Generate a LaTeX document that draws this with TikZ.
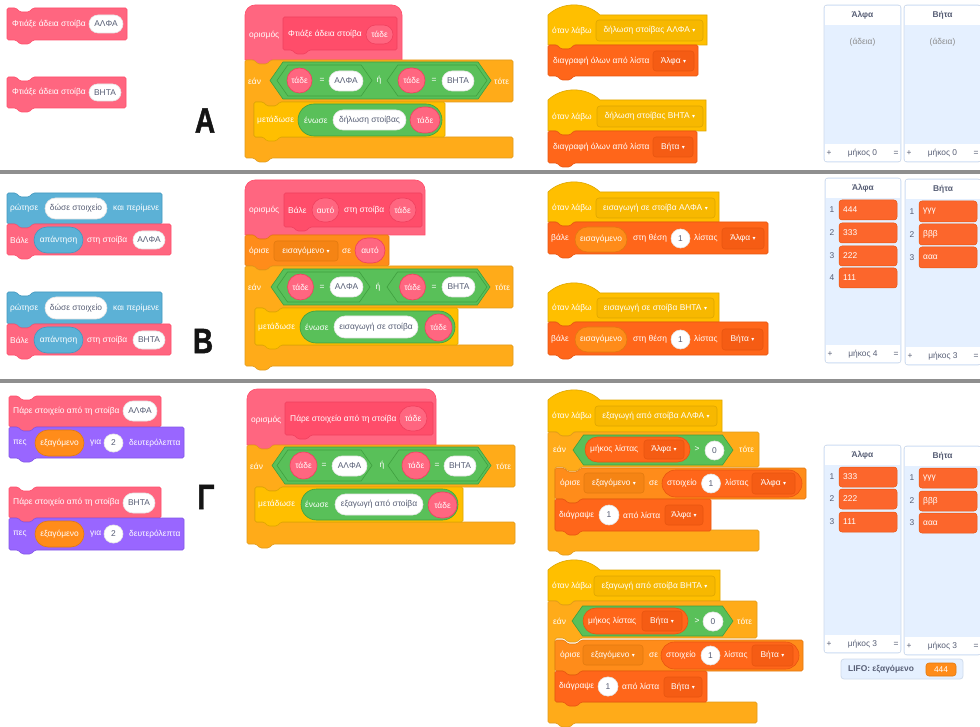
\documentclass[tikz,border=0pt]{standalone}
\usepackage{fontspec}
\setmainfont{Liberation Sans}
\newfontfamily\symfont{DejaVu Sans}
\newfontfamily\heavyfont[FakeBold=1.6]{Liberation Sans}
\usetikzlibrary{shapes.misc}
\definecolor{cPink}{HTML}{FF6680}
\definecolor{cPinkD}{HTML}{FF4D6A}
\definecolor{cPinkDD}{HTML}{F0405E}
\definecolor{cCtl}{HTML}{FFAB19}
\definecolor{cCtlD}{HTML}{E09A1A}
\definecolor{cEv}{HTML}{FFBF00}
\definecolor{cEvD}{HTML}{DDA600}
\definecolor{cEvM}{HTML}{F7B800}
\definecolor{cOp}{HTML}{59C059}
\definecolor{cOpD}{HTML}{3F9F3F}
\definecolor{cVar}{HTML}{FF8C1A}
\definecolor{cVarD}{HTML}{E27A10}
\definecolor{cVarM}{HTML}{F58414}
\definecolor{cLst}{HTML}{FF661A}
\definecolor{cLstD}{HTML}{E85510}
\definecolor{cLstM}{HTML}{F55C14}
\definecolor{cSen}{HTML}{5CB1D6}
\definecolor{cSenD}{HTML}{4499C0}
\definecolor{cLk}{HTML}{9966FF}
\definecolor{cLkD}{HTML}{8255E6}
\definecolor{ink}{HTML}{575E75}
\definecolor{lbg}{HTML}{E5F0FF}
\definecolor{lbd}{HTML}{D0DCEC}
\definecolor{sepc}{HTML}{8F8F8F}
\definecolor{itemc}{HTML}{FC662C}
\newcommand\dd{\hspace{2.5pt}{\symfont\fontsize{6}{6}\selectfont ▾}}
% stack block: style, x1, y1, x2, y2
\newcommand\stk[5]{\draw[#1, rounded corners=1.5pt] (#2,#3) -- ({#2+9},#3) -- ++(4,4) -- ++(9,0) -- ++(4,-4) -- (#4,#3) -- (#4,#5) -- ({#2+26},#5) -- ++(-4,4) -- ++(-9,0) -- ++(-4,-4) -- (#2,#5) -- cycle;}
% event hat
\newcommand\hatev[5]{\draw[#1] (#2,#5) -- (#2,#3) .. controls ({#2+14},{#3-13.5}) and ({#2+38},{#3-13.5}) .. ({#2+52},#3) -- (#4,#3) -- (#4,#5) -- ({#2+26},#5) -- ++(-4,4) -- ++(-9,0) -- ++(-4,-4) -- cycle;}
% define hat
\newcommand\hatdef[5]{\draw[#1] (#2,#5) -- (#2,{#3+10}) .. controls (#2,{#3+4.5}) and ({#2+4.5},#3) .. ({#2+10},#3) -- ({#4-10},#3) .. controls ({#4-4.5},#3) and (#4,{#3+4.5}) .. (#4,{#3+10}) -- (#4,#5) -- ({#2+26},#5) -- ++(-4,4) -- ++(-9,0) -- ++(-4,-4) -- cycle;}
% prototype inside define
\newcommand\proto[4]{\draw[fill=cPinkD, draw=cPinkDD, line width=0.6pt, rounded corners=1.5pt] (#1,#2) -- (#3,#2) -- (#3,#4) -- ({#1+26},#4) -- ++(-4,4) -- ++(-9,0) -- ++(-4,-4) -- (#1,#4) -- cycle;}
% C block: style, x1, y1, x2, ya, xi, yb, y2
\newcommand\cblk[8]{\draw[#1, rounded corners=1.5pt] (#2,#3) -- ({#2+9},#3) -- ++(4,4) -- ++(9,0) -- ++(4,-4) -- (#4,#3) -- (#4,#5) -- ({#6+26},#5) -- ++(-4,4) -- ++(-9,0) -- ++(-4,-4) -- (#6,#5) -- (#6,#7) -- (#4,#7) -- (#4,#8) -- ({#2+26},#8) -- ++(-4,4) -- ++(-9,0) -- ++(-4,-4) -- (#2,#8) -- cycle;}
% boolean hexagon
\newcommand\hexb[5]{\draw[#1] (#2,{(#3+#5)/2}) -- ({#2+0.35*(#5-#3)},#3) -- ({#4-0.35*(#5-#3)},#3) -- (#4,{(#3+#5)/2}) -- ({#4-0.35*(#5-#3)},#5) -- ({#2+0.35*(#5-#3)},#5) -- cycle;}
% box node: name, style, x1, y1, x2, y2, text
\newcommand\bx[7]{\node[#2, minimum width={#5-#3}, minimum height={#6-#4}] (#1) at ({(#3+#5)/2},{(#4+#6)/2}) {#7};}
% list panel
\newcommand\lpanel[7]{%
 \draw[fill=lbg, draw=lbd, line width=0.8pt, rounded corners=3pt] (#2,#3) rectangle (#4,#5);
 \fill[white] ({#2+0.8},{#3+0.8}) rectangle ({#4-0.8},{#3+20});
 \fill[white] ({#2+0.8},{#5-18}) rectangle ({#4-0.8},{#5-0.8});
 \node[lt, font=\fontsize{8.4}{10}\selectfont\bfseries] (#1h) at ({(#2+#4)/2},{#3+10.5}) {#6};
 \node[lt] (#1f) at ({(#2+#4)/2},{#5-9}) {#7};
 \node[lt] (#1p) at ({#2+5},{#5-9}) {+};
 \node[lt] (#1q) at ({#4-5},{#5-9}) {=};
}
% list item: name x1 y1 x2 y2 idx text
\newcommand\litem[7]{%
 \node[lt] (#1i) at ({#2-7},{(#3+#5)/2}) {#6};
 \draw[fill=itemc, draw=cLstD, line width=0.5pt, rounded corners=3pt] (#2,#3) rectangle (#4,#5);
 \node[bt] (#1t) at ({#2+4},{(#3+#5)/2}) {#7};
}
\tikzset{
 bf/.style={font=\fontsize{8.4}{10}\selectfont},
 bt/.style={bf, text=white, anchor=west, inner sep=0pt},
 bc/.style={bf, text=white, inner sep=0pt},
 lt/.style={bf, text=ink, inner sep=0pt},
 pinkb/.style={fill=cPink, draw=cPinkD, line width=0.6pt},
 ctlb/.style={fill=cCtl, draw=cCtlD, line width=0.6pt},
 evb/.style={fill=cEv, draw=cEvD, line width=0.6pt},
 opb/.style={fill=cOp, draw=cOpD, line width=0.6pt},
 varb/.style={fill=cVar, draw=cVarD, line width=0.6pt},
 lstb/.style={fill=cLst, draw=cLstD, line width=0.6pt},
 senb/.style={fill=cSen, draw=cSenD, line width=0.6pt},
 lkb/.style={fill=cLk, draw=cLkD, line width=0.6pt},
 pillbase/.style={rounded rectangle, inner sep=0pt, bf, line width=0.6pt},
 wpill/.style={pillbase, fill=white, draw=black!10, text=ink},
 ppill/.style={pillbase, fill=cPink, draw=cPinkDD, text=white},
 bpill/.style={pillbase, fill=cSen, draw=cSenD, text=white},
 vpill/.style={pillbase, fill=cVar, draw=cVarD, text=white},
 gpill/.style={pillbase, fill=cOp, draw=cOpD, text=white},
 lpill/.style={pillbase, fill=cLst, draw=cLstD, text=white},
 ddbase/.style={rectangle, rounded corners=3pt, inner sep=0pt, bf, text=white, line width=0.6pt},
 evdd/.style={ddbase, fill=cEvM, draw=cEvD},
 lstdd/.style={ddbase, fill=cLstM, draw=cLstD},
 vardd/.style={ddbase, fill=cVarM, draw=cVarD},
 big/.style={inner sep=0pt, text=black!92, font=\heavyfont\fontsize{35}{35}\selectfont\bfseries},
}
\begin{document}
\begin{tikzpicture}[x=1pt, y=-1pt]
\useasboundingbox (0,0) rectangle (980,727);
\fill[white] (0,0) rectangle (980,727);
% separators
\draw[sepc, line width=3.5pt] (0,172) -- (980,172);
\draw[sepc, line width=3.5pt] (0,381) -- (980,381);

%================ SECTION A ================
\stk{pinkb}{7}{8}{127}{40}
\node[bt] (a1t) at (12,24) {Φτιάξε άδεια στοίβα};
\bx{a1v}{wpill}{89}{15}{123}{33}{ΑΛΦΑ}
\stk{pinkb}{7}{77}{126}{108}
\node[bt] (a2t) at (12,92.5) {Φτιάξε άδεια στοίβα};
\bx{a2v}{wpill}{89}{84}{121}{101}{ΒΗΤΑ}
\node[big] (labA) at (205,120.5) {\scalebox{0.8}[1]{Α}};

% define A
\hatdef{pinkb}{245}{5}{402}{60}
\proto{283}{17}{397}{50}
\node[bt] (d1o) at (249,35) {ορισμός};
\node[bt] (d1t) at (288,34) {Φτιάξε άδεια στοίβα};
\bx{d1a}{ppill}{366}{25}{393}{44}{τάδε}
\cblk{ctlb}{245}{60}{513}{102}{254}{137}{158}
\node[bt] (d1if) at (248,81) {εάν};
\node[bt] (d1th) at (494,81) {τότε};
\hexb{opb}{270}{62}{491}{99}
\hexb{opb}{277}{65}{372}{96}
\hexb{opb}{387}{65}{487}{96}
\bx{d1c1}{ppill}{287}{68}{312}{93}{τάδε}
\node[bc] (d1e1) at (322,80.5) {=};
\bx{d1c2}{wpill}{329}{71}{363}{91}{ΑΛΦΑ}
\node[bc] (d1or) at (379,80.5) {ή};
\bx{d1c3}{ppill}{398}{68}{425}{93}{τάδε}
\node[bc] (d1e2) at (434,80.5) {=};
\bx{d1c4}{wpill}{442}{71}{474}{91}{ΒΗΤΑ}
\stk{evb}{254}{102}{445}{137}
\node[bt] (d1b) at (257,120) {μετάδωσε};
\bx{d1j}{gpill}{298}{104}{442}{136}{}
\node[bt] (d1jt) at (304,120) {ένωσε};
\bx{d1js}{wpill}{333}{110}{406}{130}{δήλωση στοίβας}
\bx{d1ja}{ppill}{410}{107}{440}{133}{τάδε}

% receivers A
\hatev{evb}{548}{15}{707}{45}
\node[bt] (r1h) at (552,31) {όταν λάβω};
\bx{r1d}{evdd}{596}{20}{703}{41}{δήλωση στοίβας ΑΛΦΑ\dd}
\stk{lstb}{548}{45}{698}{76}
\node[bt] (r1l) at (553,61) {διαγραφή όλων από λίστα};
\bx{r1ld}{lstdd}{653}{51}{694}{71}{Άλφα\dd}
\hatev{evb}{548}{100}{706}{131}
\node[bt] (r2h) at (552,117) {όταν λάβω};
\bx{r2d}{evdd}{597}{106}{703}{127}{δήλωση στοίβας ΒΗΤΑ\dd}
\stk{lstb}{548}{131}{697}{163}
\node[bt] (r2l) at (553,147) {διαγραφή όλων από λίστα};
\bx{r2ld}{lstdd}{653}{137}{693}{157}{Βήτα\dd}

% lists A
\lpanel{LA}{824}{5}{901}{162}{Άλφα}{μήκος 0}
\node[lt, text=black!45] (LAe) at (862.5,42) {(άδεια)};
\lpanel{LB}{904}{5}{981}{162}{Βήτα}{μήκος 0}
\node[lt, text=black!45] (LBe) at (942.5,42) {(άδεια)};

%================ SECTION B ================
\stk{senb}{7}{193}{162}{224}
\node[bt] (b1a) at (10,208.5) {ρώτησε};
\bx{b1q}{wpill}{45}{198}{107}{219}{δώσε στοιχείο}
\node[bt] (b1b) at (113,208.5) {και περίμενε};
\stk{pinkb}{7}{224}{171}{255}
\node[bt] (b1c) at (10,240) {Βάλε};
\bx{b1r}{bpill}{34}{227}{83}{253}{απάντηση}
\node[bt] (b1d) at (87,240) {στη στοίβα};
\bx{b1v}{wpill}{133}{231}{165}{249}{ΑΛΦΑ}

\stk{senb}{7}{292}{162}{324}
\node[bt] (b2a) at (10,308) {ρώτησε};
\bx{b2q}{wpill}{45}{297}{107}{319}{δώσε στοιχείο}
\node[bt] (b2b) at (113,308) {και περίμενε};
\stk{pinkb}{7}{324}{171}{355}
\node[bt] (b2c) at (10,340) {Βάλε};
\bx{b2r}{bpill}{34}{327}{83}{353}{απάντηση}
\node[bt] (b2d) at (87,340) {στη στοίβα};
\bx{b2v}{wpill}{133}{331}{165}{349}{ΒΗΤΑ}
\node[big] (labB) at (203,341) {\scalebox{0.8}[1]{Β}};

% define B
\hatdef{pinkb}{245}{180}{425}{235}
\proto{284}{193}{422}{227}
\node[bt] (d2o) at (249,210) {ορισμός};
\node[bt] (d2t) at (288,210) {Βάλε};
\bx{d2a}{ppill}{312}{198}{339}{222}{αυτό}
\node[bt] (d2u) at (344,210) {στη στοίβα};
\bx{d2b}{ppill}{389}{198}{416}{222}{τάδε}
\stk{varb}{245}{235}{389}{266}
\node[bt] (d2s) at (249,251) {όρισε};
\bx{d2sd}{vardd}{274}{241}{338}{261}{εισαγόμενο\dd}
\node[bt] (d2se) at (342,251) {σε};
\bx{d2sv}{ppill}{355}{238}{385}{263}{αυτό}
\cblk{ctlb}{245}{266}{513}{308}{255}{345}{366}
\node[bt] (d2if) at (248,287) {εάν};
\node[bt] (d2th) at (495,287) {τότε};
\hexb{opb}{271}{269}{490}{305}
\hexb{opb}{277}{272}{370}{302}
\hexb{opb}{387}{272}{487}{302}
\bx{d2c1}{ppill}{288}{274}{313}{300}{τάδε}
\node[bc] (d2e1) at (322,287) {=};
\bx{d2c2}{wpill}{330}{277}{363}{297}{ΑΛΦΑ}
\node[bc] (d2or) at (378,287) {ή};
\bx{d2c3}{ppill}{400}{274}{425}{300}{τάδε}
\node[bc] (d2e2) at (434,287) {=};
\bx{d2c4}{wpill}{442}{277}{475}{297}{ΒΗΤΑ}
\stk{evb}{255}{308}{458}{345}
\node[bt] (d2b) at (258,327) {μετάδωσε};
\bx{d2j}{gpill}{300}{311}{455}{343}{}
\node[bt] (d2jt) at (305,327) {ένωσε};
\bx{d2js}{wpill}{334}{316}{418}{338}{εισαγωγή σε στοίβα}
\bx{d2ja}{ppill}{425}{314}{452}{341}{τάδε}

% receivers B
\hatev{evb}{548}{192}{719}{222}
\node[bt] (r3h) at (552,208) {όταν λάβω};
\bx{r3d}{evdd}{596}{198}{715}{218}{εισαγωγή σε στοίβα ΑΛΦΑ\dd}
\stk{lstb}{548}{222}{768}{254}
\node[bt] (r3a) at (551,238.5) {βάλε};
\bx{r3v}{vpill}{575}{227}{627}{252}{εισαγόμενο}
\node[bt] (r3b) at (633,238.5) {στη θέση};
\bx{r3n}{wpill}{671}{229}{690}{248}{1}
\node[bt] (r3c) at (694,238.5) {λίστας};
\bx{r3ld}{lstdd}{722}{228}{764}{249}{Άλφα\dd}
\hatev{evb}{548}{293}{719}{322}
\node[bt] (r4h) at (552,308) {όταν λάβω};
\bx{r4d}{evdd}{597}{298}{714}{318}{εισαγωγή σε στοίβα ΒΗΤΑ\dd}
\stk{lstb}{548}{322}{768}{355}
\node[bt] (r4a) at (551,339) {βάλε};
\bx{r4v}{vpill}{575}{327}{627}{352}{εισαγόμενο}
\node[bt] (r4b) at (633,339) {στη θέση};
\bx{r4n}{wpill}{671}{330}{690}{349}{1}
\node[bt] (r4c) at (694,339) {λίστας};
\bx{r4ld}{lstdd}{722}{329}{763}{350}{Βήτα\dd}

% lists B
\lpanel{MA}{825}{178}{901}{363}{Άλφα}{μήκος 4}
\litem{MA1}{839}{200}{897}{220}{1}{444}
\litem{MA2}{839}{223}{897}{243}{2}{333}
\litem{MA3}{839}{246}{897}{266}{3}{222}
\litem{MA4}{839}{268}{897}{288}{4}{111}
\lpanel{MB}{905}{179}{981}{365}{Βήτα}{μήκος 3}
\litem{MB1}{919}{201}{977}{222}{1}{γγγ}
\litem{MB2}{919}{224}{977}{245}{2}{βββ}
\litem{MB3}{919}{247}{977}{268}{3}{ααα}

%================ SECTION Γ ================
\stk{pinkb}{9}{396}{161}{427}
\node[bt] (g1a) at (13,411.5) {Πάρε στοιχείο από τη στοίβα};
\bx{g1v}{wpill}{123}{401}{157}{421}{ΑΛΦΑ}
\stk{lkb}{9}{427}{184}{458}
\node[bt] (g1b) at (13,443) {πες};
\bx{g1x}{vpill}{35}{430}{84}{456}{εξαγόμενο}
\node[bt] (g1c) at (90,443) {για};
\bx{g1n}{wpill}{104}{434}{123}{452}{2}
\node[bt] (g1d) at (129,443) {δευτερόλεπτα};

\stk{pinkb}{9}{487}{161}{518}
\node[bt] (g2a) at (13,502.5) {Πάρε στοιχείο από τη στοίβα};
\bx{g2v}{wpill}{123}{493}{155}{513}{ΒΗΤΑ}
\stk{lkb}{9}{518}{184}{550}
\node[bt] (g2b) at (13,534) {πες};
\bx{g2x}{vpill}{35}{521}{84}{547}{εξαγόμενο}
\node[bt] (g2c) at (90,534) {για};
\bx{g2n}{wpill}{104}{525}{123}{543}{2}
\node[bt] (g2d) at (129,534) {δευτερόλεπτα};
\node[big] (labG) at (206,497) {\scalebox{0.8}[1]{Γ}};

% define Γ
\hatdef{pinkb}{247}{389}{436}{445}
\proto{285}{402}{433}{435}
\node[bt] (d3o) at (251,420) {ορισμός};
\node[bt] (d3t) at (290,419) {Πάρε στοιχείο από τη στοίβα};
\bx{d3a}{ppill}{399}{406}{427}{431}{τάδε}
\cblk{ctlb}{247}{445}{515}{487}{255}{522}{544}
\node[bt] (d3if) at (250,466) {εάν};
\node[bt] (d3th) at (496,466) {τότε};
\hexb{opb}{272}{447}{491}{484}
\hexb{opb}{277}{450}{372}{481}
\hexb{opb}{388}{450}{488}{481}
\bx{d3c1}{ppill}{290}{452}{317}{479}{τάδε}
\node[bc] (d3e1) at (324,465.5) {=};
\bx{d3c2}{wpill}{332}{456}{367}{476}{ΑΛΦΑ}
\node[bc] (d3or) at (382,465.5) {ή};
\bx{d3c3}{ppill}{402}{452}{430}{479}{τάδε}
\node[bc] (d3e2) at (437,465.5) {=};
\bx{d3c4}{wpill}{444}{456}{476}{476}{ΒΗΤΑ}
\stk{evb}{255}{487}{463}{522}
\node[bt] (d3b) at (258,504.5) {μετάδωσε};
\bx{d3j}{gpill}{301}{489}{458}{520}{}
\node[bt] (d3jt) at (305,504.5) {ένωσε};
\bx{d3js}{wpill}{335}{494}{423}{515}{εξαγωγή από στοίβα}
\bx{d3ja}{ppill}{428}{492}{457}{518}{τάδε}

% receivers Γ (ΑΛΦΑ)
\hatev{evb}{548}{400}{722}{432}
\node[bt] (r5h) at (552,416) {όταν λάβω};
\bx{r5d}{evdd}{595}{406}{717}{426}{εξαγωγή από στοίβα ΑΛΦΑ\dd}
\cblk{ctlb}{548}{432}{759}{467}{555}{530}{551}
\node[bt] (r5if) at (553,449.5) {εάν};
\hexb{opb}{573}{435}{733}{465}
\bx{r5m}{lpill}{585}{437}{690}{462}{}
\node[bt] (r5mt) at (590,449.5) {μήκος λίστας};
\bx{r5md}{lstdd}{644}{440}{684}{459}{Άλφα\dd}
\node[bc] (r5gt) at (697,449.5) {>};
\bx{r5z}{wpill}{705}{441}{724}{460}{0}
\node[bt] (r5th) at (739,449.5) {τότε};
\stk{varb}{555}{468}{806}{499}
\node[bt] (r5s) at (560,483.5) {όρισε};
\bx{r5sd}{vardd}{584}{473}{644}{493}{εξαγόμενο\dd}
\node[bt] (r5se) at (649,483.5) {σε};
\bx{r5it}{lpill}{662}{470}{802}{497}{}
\node[bt] (r5i1) at (667,483.5) {στοιχείο};
\bx{r5in}{wpill}{702}{474}{720}{493}{1}
\node[bt] (r5i2) at (725,483.5) {λίστας};
\bx{r5id}{lstdd}{752}{473}{795}{494}{Άλφα\dd}
\stk{lstb}{555}{499}{711}{531}
\node[bt] (r5x) at (559,515) {διάγραψε};
\bx{r5xn}{wpill}{599}{505}{619}{525}{1}
\node[bt] (r5x2) at (623,515) {από λίστα};
\bx{r5xd}{lstdd}{665}{505}{703}{525}{Άλφα\dd}

% receivers Γ (ΒΗΤΑ)
\hatev{evb}{548}{570}{720}{601}
\node[bt] (r6h) at (552,586) {όταν λάβω};
\bx{r6d}{evdd}{594}{576}{715}{596}{εξαγωγή από στοίβα ΒΗΤΑ\dd}
\cblk{ctlb}{548}{601}{757}{638}{555}{702}{723}
\node[bt] (r6if) at (553,621) {εάν};
\hexb{opb}{572}{606}{733}{636}
\bx{r6m}{lpill}{583}{608}{688}{634}{}
\node[bt] (r6mt) at (588,621) {μήκος λίστας};
\bx{r6md}{lstdd}{642}{611}{682}{631}{Βήτα\dd}
\node[bc] (r6gt) at (697,621) {>};
\bx{r6z}{wpill}{703}{612}{723}{631}{0}
\node[bt] (r6th) at (737,621) {τότε};
\stk{varb}{555}{640}{803}{671}
\node[bt] (r6s) at (560,655.5) {όρισε};
\bx{r6sd}{vardd}{583}{645}{643}{665}{εξαγόμενο\dd}
\node[bt] (r6se) at (649,655.5) {σε};
\bx{r6it}{lpill}{661}{642}{799}{669}{}
\node[bt] (r6i1) at (666,655.5) {στοιχείο};
\bx{r6in}{wpill}{701}{646}{720}{665}{1}
\node[bt] (r6i2) at (724,655.5) {λίστας};
\bx{r6id}{lstdd}{752}{645}{793}{666}{Βήτα\dd}
\stk{lstb}{555}{671}{707}{702}
\node[bt] (r6x) at (559,686.5) {διάγραψε};
\bx{r6xn}{wpill}{598}{677}{618}{696}{1}
\node[bt] (r6x2) at (622,686.5) {από λίστα};
\bx{r6xd}{lstdd}{664}{677}{702}{697}{Βήτα\dd}

% lists Γ
\lpanel{NA}{824}{445}{901}{653}{Άλφα}{μήκος 3}
\litem{NA1}{839}{467}{897}{487}{1}{333}
\litem{NA2}{839}{489}{897}{509}{2}{222}
\litem{NA3}{839}{512}{897}{532}{3}{111}
\lpanel{NB}{904}{446}{981}{655}{Βήτα}{μήκος 3}
\litem{NB1}{919}{468}{977}{488}{1}{γγγ}
\litem{NB2}{919}{491}{977}{511}{2}{βββ}
\litem{NB3}{919}{513}{977}{533}{3}{ααα}

% LIFO monitor
\draw[fill=lbg, draw=lbd, line width=0.8pt, rounded corners=3pt] (841,659) rectangle (963,679);
\node[lt, anchor=west, font=\fontsize{8.4}{10}\selectfont\bfseries] (lifo) at (848,669) {LIFO: εξαγόμενο};
\bx{lifov}{ddbase, fill=cVar, draw=cVarD}{926}{663}{956}{676}{444}
\end{tikzpicture}
\end{document}
